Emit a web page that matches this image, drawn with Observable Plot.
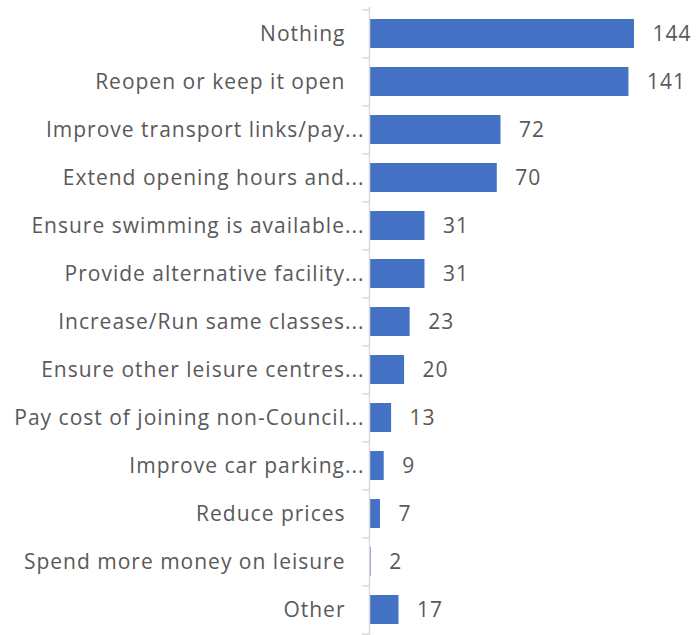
<!DOCTYPE html>
<html>
<head>
<meta charset="utf-8">
<script src="https://cdn.jsdelivr.net/npm/d3@7"></script>
<script src="https://cdn.jsdelivr.net/npm/@observablehq/plot@0.6"></script>
<style>
  html, body { margin: 0; padding: 0; background: #fff; }
  #chart { width: 698px; height: 635px; }
  #chart text { letter-spacing: 1px; }
</style>
</head>
<body>
<div id="chart"></div>
<script>
const categories = [
  "Nothing",
  "Reopen or keep it open",
  "Improve transport links/pay...",
  "Extend opening hours and...",
  "Ensure swimming is available...",
  "Provide alternative facility...",
  "Increase/Run same classes...",
  "Ensure other leisure centres...",
  "Pay cost of joining non-Council...",
  "Improve car parking...",
  "Reduce prices",
  "Spend more money on leisure",
  "Other"
];
const counts = [144, 141, 72, 70, 31, 31, 23, 20, 13, 9, 7, 2, 17];

const data = categories.map((c, i) => ({category: c, value: counts[i]}));
const truncated = categories.filter(c => c.endsWith("..."));
const whole = categories.filter(c => !c.endsWith("..."));

const W = 698, H = 635;
const mTop = 7, mBottom = 0, mLeft = 367, mRight = 64;
const step = (H - mTop - mBottom) / categories.length;
const pxPerUnit = (W - mLeft - mRight) / 144;
const tickLen = 7 / pxPerUnit;
const font = "Open Sans, sans-serif";
const textColor = "#595959";
const axisColor = "#d9d9d9";

const chart = Plot.plot({
  width: W,
  height: H,
  marginTop: mTop,
  marginBottom: mBottom,
  marginLeft: mLeft,
  marginRight: mRight,
  style: {fontFamily: font, fontSize: "21px", color: textColor, background: "#fff"},
  x: {domain: [0, 144], axis: null},
  y: {domain: categories, paddingInner: 0.4, paddingOuter: 0.2, label: null},
  marks: [
    Plot.axisY({ticks: truncated, tickSize: 0, tickPadding: 3, fill: textColor, fontSize: 21, label: null}),
    Plot.axisY({ticks: whole, tickSize: 0, tickPadding: 22, fill: textColor, fontSize: 21, label: null}),
    Plot.barX(data, {x: "value", y: "category", fill: "#4472C4", insetLeft: 3}),
    Plot.ruleX([0], {dx: 2, stroke: axisColor, strokeWidth: 1.5}),
    Plot.ruleY(categories, {y: d => d, x1: -tickLen, x2: 0, dx: 2, dy: -step / 2, stroke: axisColor, strokeWidth: 1.5}),
    Plot.ruleY([categories[categories.length - 1]], {y: d => d, x1: -tickLen, x2: 0, dx: 2, dy: step / 2, stroke: axisColor, strokeWidth: 1.5}),
    Plot.text(data, {x: "value", y: "category", text: d => String(d.value), dx: 18, textAnchor: "start", fill: textColor, fontSize: 21})
  ]
});
document.getElementById("chart").appendChild(chart);
</script>
</body>
</html>
